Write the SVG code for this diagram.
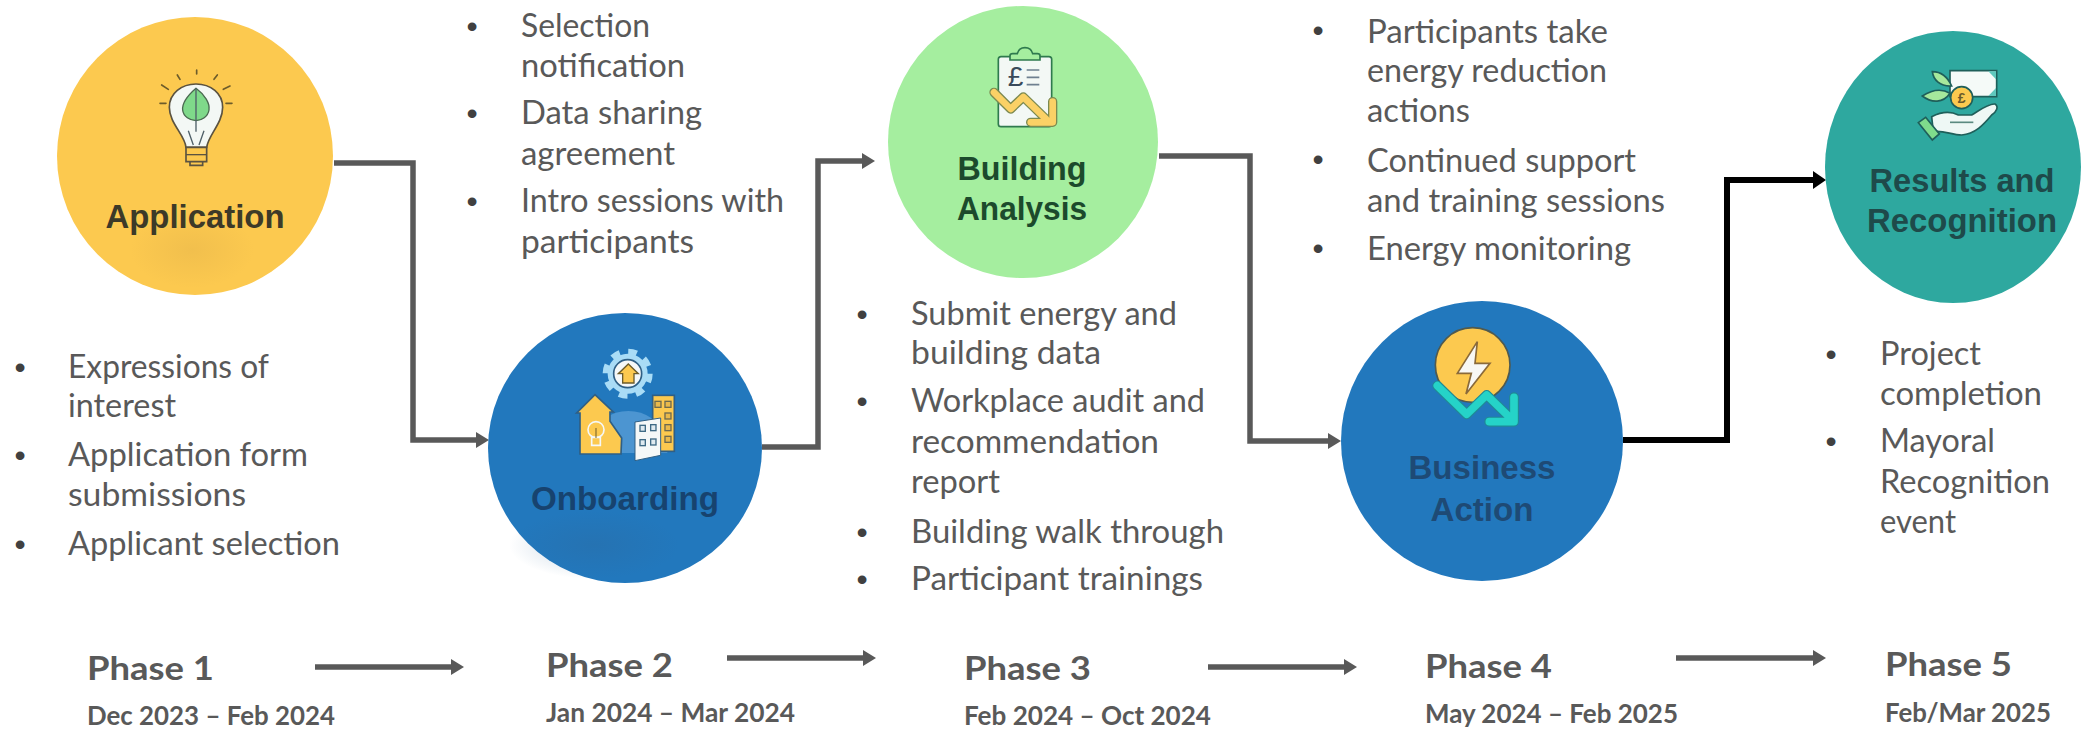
<svg xmlns="http://www.w3.org/2000/svg" width="2094" height="730" viewBox="0 0 2094 730">
<style>
text{font-family:"Lato","Noto Sans",sans-serif}
.b{font-size:32px;fill:#595959}
.d{font-family:"Liberation Sans",Arial,sans-serif;font-size:32px;fill:#404040;text-anchor:middle}
.ph{font-size:33px;font-weight:700;fill:#595959}
.dt{font-size:27px;font-weight:700;fill:#595959}
.lb{font-family:"Liberation Sans",Arial,sans-serif;font-size:33px;font-weight:700;text-anchor:middle}
.c{fill:none;stroke:#595959;stroke-width:5.5}
.t{fill:none;stroke:#595959;stroke-width:5.5}
.o{stroke-linejoin:round;stroke-linecap:round}
</style>
<defs>
<marker id="ah" markerUnits="userSpaceOnUse" markerWidth="13" markerHeight="16" refX="0" refY="8" orient="auto"><path d="M0 0L13 8L0 16Z" fill="#595959"/></marker>
<marker id="ak" markerUnits="userSpaceOnUse" markerWidth="13" markerHeight="18" refX="0" refY="9" orient="auto"><path d="M0 0L13 9L0 18Z" fill="#000"/></marker>
<radialGradient id="sh"><stop offset="0" stop-color="#d8a848" stop-opacity=".3"/><stop offset="1" stop-color="#d8a848" stop-opacity="0"/></radialGradient>
<radialGradient id="sb"><stop offset="0" stop-color="#2f6596" stop-opacity=".28"/><stop offset="1" stop-color="#2f6596" stop-opacity="0"/></radialGradient>
</defs>
<rect width="2094" height="730" fill="#fff"/>

<g id="connectors">
<path class="c" d="M334 163H413V440H476" marker-end="url(#ah)"/>
<path class="c" d="M762 447H818V161H862" marker-end="url(#ah)"/>
<path class="c" d="M1159 156H1250V441H1328" marker-end="url(#ah)"/>
<path d="M1623 440H1727V180H1813" fill="none" stroke="#000" stroke-width="6" marker-end="url(#ak)"/>
<path class="t" d="M315 667H451" marker-end="url(#ah)"/>
<path class="t" d="M727 658H863" marker-end="url(#ah)"/>
<path class="t" d="M1208 667H1344" marker-end="url(#ah)"/>
<path class="t" d="M1676 658H1813" marker-end="url(#ah)"/>
</g>

<g id="application">
<ellipse cx="195" cy="156" rx="138" ry="139" fill="#fcc94f"/>
<ellipse cx="192" cy="250" rx="62" ry="38" fill="url(#sh)"/>
<g transform="translate(140 60) scale(.3333)">
<g stroke="#6d5c2a" stroke-width="5" fill="none" stroke-linecap="round"><path d="M112 45L120 58M170 30V42M232 45L222 58M65 75L85 88M270 78L250 88M60 130H78M258 130H276"/></g>
<path d="M138 262C135 225 88 190 88 142C88 100 125 72 168 72C212 72 248 100 248 142C248 190 205 225 200 262Z" fill="#f3f8f5" stroke="#5b5340" stroke-width="5"/>
<path d="M168 85C195 105 210 130 207 150C204 170 185 182 168 182C150 182 130 170 128 150C126 130 145 105 168 85Z" fill="#7fd98a" stroke="#4a6a50" stroke-width="4"/>
<path d="M168 85V215M145 212L160 255M192 212L177 255" fill="none" stroke="#4f6068" stroke-width="4"/>
<path d="M138 262H200V305H138ZM150 305H188V316H150Z" fill="#fcc94f" stroke="#5b5340" stroke-width="5"/>
<path d="M138 284H200" stroke="#5b5340" stroke-width="4"/>
</g>
<text class="lb" x="195" y="228" textLength="179" lengthAdjust="spacingAndGlyphs" fill="#3d3a28">Application</text>
<text class="d" x="20" y="378">•</text>
<text class="b" x="68" y="378" textLength="201" lengthAdjust="spacingAndGlyphs">Expressions of</text>
<text class="b" x="68" y="417" textLength="108" lengthAdjust="spacingAndGlyphs">interest</text>
<text class="d" x="20" y="466">•</text>
<text class="b" x="68" y="466" textLength="240" lengthAdjust="spacingAndGlyphs">Application form</text>
<text class="b" x="68" y="506" textLength="178" lengthAdjust="spacingAndGlyphs">submissions</text>
<text class="d" x="20" y="555">•</text>
<text class="b" x="68" y="555" textLength="272" lengthAdjust="spacingAndGlyphs">Applicant selection</text>
</g>

<g id="onboarding">
<ellipse cx="625" cy="448" rx="137" ry="135" fill="#2278bd"/>
<ellipse cx="594" cy="545" rx="85" ry="34" fill="url(#sb)"/>
<g transform="translate(560 338) scale(.3333)">
<path d="M88 300A125 125 0 0 1 322 300V345H88Z" fill="#4c95d1"/>
<circle cx="203" cy="107" r="60" fill="#a9dcf6"/>
<circle cx="203" cy="107" r="66" fill="none" stroke="#a9dcf6" stroke-width="18" stroke-dasharray="26 25.8"/>
<circle cx="203" cy="107" r="42" fill="#f5f8f8" stroke="#2f5f85" stroke-width="5"/>
<path d="M205 78L235 107H222V135H188V107H175Z" fill="#fcc94f" stroke="#6d5c2a" stroke-width="4"/>
<path d="M105 170L160 222H150V250L185 300L183 348H60V225H50Z" fill="#fcc94f" stroke="#2f5f85" stroke-width="5"/>
<circle cx="108" cy="275" r="24" fill="#fcc94f" stroke="#f5f8f8" stroke-width="5"/>
<path d="M95 298H121V322H95Z" fill="#fcc94f" stroke="#f5f8f8" stroke-width="5"/>
<path d="M108 270V300" stroke="#6d5c2a" stroke-width="3"/>
<rect x="278" y="172" width="65" height="168" fill="#fcc94f" stroke="#2f5f85" stroke-width="5"/>
<g fill="#e9b94b" stroke="#6d6a50" stroke-width="4"><rect x="285" y="190" width="18" height="18"/><rect x="315" y="190" width="18" height="18"/><rect x="315" y="225" width="18" height="18"/><rect x="315" y="260" width="18" height="18"/><rect x="315" y="295" width="18" height="18"/></g>
<path d="M225 252L302 240V352L225 368Z" fill="#f5f8f8" stroke="#2f5f85" stroke-width="3"/>
<g fill="#dfeaf0" stroke="#3f6a85" stroke-width="4"><rect x="240" y="262" width="16" height="18"/><rect x="272" y="260" width="16" height="18"/><rect x="240" y="305" width="16" height="18"/><rect x="272" y="303" width="16" height="18"/></g>
</g>
<text class="lb" x="625" y="510" textLength="188" lengthAdjust="spacingAndGlyphs" fill="#17436f">Onboarding</text>
<text class="d" x="472" y="37">•</text>
<text class="b" x="521" y="37" textLength="129" lengthAdjust="spacingAndGlyphs">Selection</text>
<text class="b" x="521" y="77" textLength="164" lengthAdjust="spacingAndGlyphs">notification</text>
<text class="d" x="472" y="124">•</text>
<text class="b" x="521" y="124" textLength="181" lengthAdjust="spacingAndGlyphs">Data sharing</text>
<text class="b" x="521" y="165" textLength="154" lengthAdjust="spacingAndGlyphs">agreement</text>
<text class="d" x="472" y="212">•</text>
<text class="b" x="521" y="212" textLength="263" lengthAdjust="spacingAndGlyphs">Intro sessions with</text>
<text class="b" x="521" y="253" textLength="173" lengthAdjust="spacingAndGlyphs">participants</text>
</g>

<g id="building-analysis">
<ellipse cx="1023" cy="142" rx="135" ry="136" fill="#a5ee9f"/>
<g transform="translate(980 35) scale(.3333)">
<rect x="55" y="65" width="160" height="210" rx="8" fill="#f3f8f5" stroke="#2f7a4e" stroke-width="5"/>
<path d="M90 75V62Q90 56 98 56H112C118 32 152 32 158 56H172Q180 56 180 62V75Z" fill="#a5ee9f" stroke="#2f7a4e" stroke-width="5"/>
<text x="83" y="152" font-size="84" style="font-family:'Liberation Sans',sans-serif;fill:#3a4a5a">£</text>
<path d="M140 105H178M140 127H178M140 149H178" stroke="#6f8090" stroke-width="5"/>
<path class="o" d="M42 172L92 222L130 186L198 252M218 200V262H152" fill="none" stroke="#7c8a50" stroke-width="28"/>
<path class="o" d="M42 172L92 222L130 186L198 252M218 200V262H152" fill="none" stroke="#fbd166" stroke-width="20"/>
</g>
<text class="lb" x="1022" y="180" textLength="129" lengthAdjust="spacingAndGlyphs" fill="#1c4a2c">Building</text>
<text class="lb" x="1022" y="220" textLength="130" lengthAdjust="spacingAndGlyphs" fill="#1c4a2c">Analysis</text>
<text class="d" x="862" y="325">•</text>
<text class="b" x="911" y="325" textLength="266" lengthAdjust="spacingAndGlyphs">Submit energy and</text>
<text class="b" x="911" y="364" textLength="190" lengthAdjust="spacingAndGlyphs">building data</text>
<text class="d" x="862" y="412">•</text>
<text class="b" x="911" y="412" textLength="294" lengthAdjust="spacingAndGlyphs">Workplace audit and</text>
<text class="b" x="911" y="453" textLength="248" lengthAdjust="spacingAndGlyphs">recommendation</text>
<text class="b" x="911" y="493" textLength="89" lengthAdjust="spacingAndGlyphs">report</text>
<text class="d" x="862" y="543">•</text>
<text class="b" x="911" y="543" textLength="313" lengthAdjust="spacingAndGlyphs">Building walk through</text>
<text class="d" x="862" y="590">•</text>
<text class="b" x="911" y="590" textLength="292" lengthAdjust="spacingAndGlyphs">Participant trainings</text>
</g>

<g id="business-action">
<ellipse cx="1482" cy="441" rx="141" ry="140" fill="#2278bd"/>
<g transform="translate(1420 320) scale(.3333)">
<circle cx="158" cy="135" r="112" fill="#fcc94f" stroke="#4f5a50" stroke-width="5"/>
<path d="M172 65L112 160L154 160L138 222L210 130H165Z" fill="#f8f8f5" stroke="#8a6a3a" stroke-width="5"/>
<path class="o" d="M52 197L140 283L200 225L275 298M282 232V305H208" fill="none" stroke="#1f8a96" stroke-width="30"/>
<path class="o" d="M52 197L140 283L200 225L275 298M282 232V305H208" fill="none" stroke="#25d3c8" stroke-width="23"/>
</g>
<text class="lb" x="1482" y="479" textLength="147" lengthAdjust="spacingAndGlyphs" fill="#1e4a75">Business</text>
<text class="lb" x="1482" y="521" textLength="103" lengthAdjust="spacingAndGlyphs" fill="#1e4a75">Action</text>
<text class="d" x="1318" y="41">•</text>
<text class="b" x="1367" y="43" textLength="241" lengthAdjust="spacingAndGlyphs">Participants take</text>
<text class="b" x="1367" y="82" textLength="240" lengthAdjust="spacingAndGlyphs">energy reduction</text>
<text class="b" x="1367" y="122" textLength="103" lengthAdjust="spacingAndGlyphs">actions</text>
<text class="d" x="1318" y="170">•</text>
<text class="b" x="1367" y="172" textLength="269" lengthAdjust="spacingAndGlyphs">Continued support</text>
<text class="b" x="1367" y="212" textLength="298" lengthAdjust="spacingAndGlyphs">and training sessions</text>
<text class="d" x="1318" y="259">•</text>
<text class="b" x="1367" y="260" textLength="264" lengthAdjust="spacingAndGlyphs">Energy monitoring</text>
</g>

<g id="results-recognition">
<ellipse cx="1953" cy="167" rx="128" ry="136" fill="#2ea89f"/>
<g transform="translate(1905 60) scale(.3333)">
<path d="M135 32H275V110H135Z" fill="#f5faf8" stroke="#1f5f5a" stroke-width="5"/>
<path d="M250 34H273V58ZM250 108H273V84Z" fill="#5fc8bd"/>
<path d="M140 78C125 45 105 35 82 35C85 60 105 80 140 78Z" fill="#a6e89c" stroke="#1f5f5a" stroke-width="5"/>
<path d="M135 100C110 85 80 90 52 108C80 130 115 130 135 100Z" fill="#a6e89c" stroke="#1f5f5a" stroke-width="5"/>
<circle cx="170" cy="113" r="33" fill="#fcc94f" stroke="#1f5f5a" stroke-width="5"/>
<text x="170" y="128" font-size="42" text-anchor="middle" style="font-family:'Liberation Sans',sans-serif;fill:#6b5a2a;font-weight:700">£</text>
<path d="M80 170C110 155 140 155 160 165H200C225 150 250 130 270 132C282 140 275 155 260 165C235 195 210 222 170 225C140 225 115 210 85 215Z" fill="#eef8f5" stroke="#1f5f5a" stroke-width="5"/>
<path d="M135 187H205" stroke="#5a8a80" stroke-width="5"/>
<path d="M40 188L62 172L103 222L82 240Z" fill="#7fdc8c" stroke="#1f5f5a" stroke-width="5"/>
</g>
<text class="lb" x="1962" y="192" textLength="185" lengthAdjust="spacingAndGlyphs" fill="#1e4a4a">Results and</text>
<text class="lb" x="1962" y="232" textLength="190" lengthAdjust="spacingAndGlyphs" fill="#1e4a4a">Recognition</text>
<text class="d" x="1831" y="365">•</text>
<text class="b" x="1880" y="365" textLength="101" lengthAdjust="spacingAndGlyphs">Project</text>
<text class="b" x="1880" y="405" textLength="162" lengthAdjust="spacingAndGlyphs">completion</text>
<text class="d" x="1831" y="452">•</text>
<text class="b" x="1880" y="452" textLength="115" lengthAdjust="spacingAndGlyphs">Mayoral</text>
<text class="b" x="1880" y="493" textLength="170" lengthAdjust="spacingAndGlyphs">Recognition</text>
<text class="b" x="1880" y="533" textLength="76" lengthAdjust="spacingAndGlyphs">event</text>
</g>

<g id="phase-1"><text class="ph" x="87" y="680" textLength="127" lengthAdjust="spacingAndGlyphs">Phase 1</text><text class="dt" x="87" y="725" textLength="248" lengthAdjust="spacingAndGlyphs">Dec 2023 – Feb 2024</text></g>
<g id="phase-2"><text class="ph" x="546" y="677" textLength="127" lengthAdjust="spacingAndGlyphs">Phase 2</text><text class="dt" x="546" y="722" textLength="249" lengthAdjust="spacingAndGlyphs">Jan 2024 – Mar 2024</text></g>
<g id="phase-3"><text class="ph" x="964" y="680" textLength="127" lengthAdjust="spacingAndGlyphs">Phase 3</text><text class="dt" x="964" y="725" textLength="247" lengthAdjust="spacingAndGlyphs">Feb 2024 – Oct 2024</text></g>
<g id="phase-4"><text class="ph" x="1425" y="678" textLength="127" lengthAdjust="spacingAndGlyphs">Phase 4</text><text class="dt" x="1425" y="723" textLength="253" lengthAdjust="spacingAndGlyphs">May 2024 – Feb 2025</text></g>
<g id="phase-5"><text class="ph" x="1885" y="676" textLength="127" lengthAdjust="spacingAndGlyphs">Phase 5</text><text class="dt" x="1885" y="722" textLength="166" lengthAdjust="spacingAndGlyphs">Feb/Mar 2025</text></g>
</svg>
